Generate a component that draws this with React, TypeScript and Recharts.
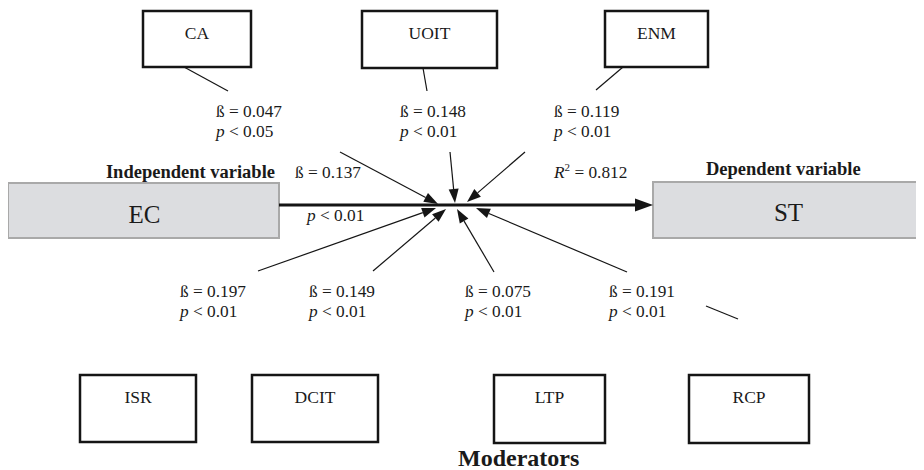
import React from 'react'
import { ScatterChart, Scatter, XAxis, YAxis, ReferenceArea, ReferenceLine } from 'recharts'

// values
const moderators = ['CA', 'UOIT', 'ENM', 'ISR', 'DCIT', 'LTP', 'RCP']
const betas = [0.047, 0.148, 0.119, 0.197, 0.149, 0.075, 0.191]
const pLevels = [0.05, 0.01, 0.01, 0.01, 0.01, 0.01, 0.01]
const directBeta = 0.137
const directP = 0.01
const rSquared = 0.812
const independentName = 'EC'
const dependentName = 'ST'

// diagram layout (page pixels used as the data space)
const moderatorBoxes = [
  [143, 251, 11, 67],
  [362, 497, 11, 68],
  [605, 708, 11, 67],
  [80, 196, 375, 442],
  [252, 378, 375, 442],
  [494, 605, 375, 443],
  [689, 809, 375, 443],
]
const coefAnchors = [
  [216, 117],
  [400, 117],
  [554, 117],
  [180, 297],
  [309, 297],
  [465, 297],
  [609, 297],
]
const pathStarts = [
  [340, 152],
  [450, 152],
  [525, 152],
  [258, 271],
  [373, 271],
  [494, 272],
  [627, 272],
]
const pathEnds = [
  [438, 204],
  [455, 203],
  [467, 202],
  [436, 208],
  [446, 209],
  [457, 209],
  [476, 208],
]
const leaderLines = [
  [184, 67, 228, 91],
  [423, 68, 427, 91],
  [623, 67, 596, 90],
  [706, 306, 738, 319],
]
const ecBox = [8, 279, 183, 238]
const stBox = [653, 922, 182, 238]

const FONT = '"Liberation Serif", "Times New Roman", serif'
const INK = '#151515'
const TXT = '#1a1a1a'

const coefData = moderators.map((m, i) => ({
  x: coefAnchors[i][0],
  y: coefAnchors[i][1],
  beta: betas[i],
  p: pLevels[i],
}))

const boxLabelData = moderators.map((m, i) => ({
  x: (moderatorBoxes[i][0] + moderatorBoxes[i][1]) / 2,
  y: moderatorBoxes[i][2] + 28,
  name: m,
}))

const mainLabelData = [
  { x: (ecBox[0] + ecBox[1]) / 2 + 1, y: 223, name: independentName },
  { x: (stBox[0] + stBox[1]) / 2 + 1, y: 221, name: dependentName },
]

const headingData = [
  { x: 275, y: 178, name: 'Independent variable', anchor: 'end', size: 18.5 },
  { x: 706, y: 175, name: 'Dependent variable', anchor: 'start', size: 18.5 },
  { x: 458, y: 466, name: 'Moderators', anchor: 'start', size: 24 },
]

const arrow = (headLen: number, headWid: number, width: number) => (props: any) => {
  const { x1, y1, x2, y2 } = props
  const dx = x2 - x1
  const dy = y2 - y1
  const len = Math.sqrt(dx * dx + dy * dy) || 1
  const ux = dx / len
  const uy = dy / len
  const bx = x2 - ux * headLen
  const by = y2 - uy * headLen
  const nx = -uy * (headWid / 2)
  const ny = ux * (headWid / 2)
  return (
    <g>
      <line x1={x1} y1={y1} x2={bx} y2={by} stroke={INK} strokeWidth={width} />
      <polygon points={`${x2},${y2} ${bx + nx},${by + ny} ${bx - nx},${by - ny}`} fill={INK} />
    </g>
  )
}

const plainLine = (props: any) => (
  <line x1={props.x1} y1={props.y1} x2={props.x2} y2={props.y2} stroke={INK} strokeWidth={1.2} />
)

const serif = (size: number, bold = false) => ({
  fontFamily: FONT,
  fontSize: size,
  fontWeight: bold ? 700 : 400,
  fill: TXT,
})

const CoefLabel = (props: any) => {
  const { cx, cy, payload } = props
  return (
    <g>
      <text x={cx} y={cy} style={serif(17.3)}>ß = {payload.beta.toFixed(3)}</text>
      <text x={cx} y={cy + 20} style={serif(17.3)}>
        <tspan style={{ fontStyle: 'italic' }}>p</tspan> &lt; {payload.p.toFixed(2)}
      </text>
    </g>
  )
}

const BoxLabel = (props: any) => (
  <text x={props.cx} y={props.cy} textAnchor="middle" style={serif(17.5)}>
    {props.payload.name}
  </text>
)

const MainLabel = (props: any) => (
  <text x={props.cx} y={props.cy} textAnchor="middle" style={serif(25)}>
    {props.payload.name}
  </text>
)

const Heading = (props: any) => (
  <text x={props.cx} y={props.cy} textAnchor={props.payload.anchor} style={serif(props.payload.size, true)}>
    {props.payload.name}
  </text>
)

const DirectLabel = (props: any) => {
  const { cx, cy } = props
  return (
    <g>
      <text x={cx} y={cy} style={serif(17.3)}>ß = {directBeta.toFixed(3)}</text>
      <text x={cx + 12} y={cy + 43} style={serif(17.3)}>
        <tspan style={{ fontStyle: 'italic' }}>p</tspan> &lt; {directP.toFixed(2)}
      </text>
    </g>
  )
}

const RSquaredLabel = (props: any) => {
  const { cx, cy } = props
  return (
    <text x={cx} y={cy} style={serif(17.3)}>
      <tspan style={{ fontStyle: 'italic' }}>R</tspan>
      <tspan dy={-7} style={{ fontSize: 11 }}>2</tspan>
      <tspan dy={7}> = {rSquared.toFixed(3)}</tspan>
    </text>
  )
}

export default function App() {
  return (
    <div style={{ width: 916, height: 462 }}>
      <ScatterChart width={916} height={462} margin={{ top: 0, right: 0, bottom: 0, left: 0 }}>
        <XAxis type="number" dataKey="x" domain={[8, 924]} allowDataOverflow hide />
        <YAxis type="number" dataKey="y" domain={[8, 470]} allowDataOverflow reversed hide />

        <ReferenceArea x1={ecBox[0]} x2={ecBox[1]} y1={ecBox[2]} y2={ecBox[3]} fill="#dcdde0" fillOpacity={1} stroke="#a9a9a9" strokeWidth={2} />
        <ReferenceArea x1={stBox[0]} x2={stBox[1]} y1={stBox[2]} y2={stBox[3]} fill="#dcdde0" fillOpacity={1} stroke="#a9a9a9" strokeWidth={2} />
        {moderatorBoxes.map((b, i) => (
          <ReferenceArea key={moderators[i]} x1={b[0]} x2={b[1]} y1={b[2]} y2={b[3]} fill="#ffffff" fillOpacity={1} stroke={INK} strokeWidth={2.5} />
        ))}

        {leaderLines.map((l, i) => (
          <ReferenceLine key={'lead' + i} segment={[{ x: l[0], y: l[1] }, { x: l[2], y: l[3] }]} shape={plainLine} />
        ))}

        <ReferenceLine segment={[{ x: ecBox[1], y: 205 }, { x: stBox[0], y: 205 }]} shape={arrow(18, 13, 3)} />
        {pathStarts.map((s, i) => (
          <ReferenceLine
            key={'path' + i}
            segment={[{ x: s[0], y: s[1] }, { x: pathEnds[i][0], y: pathEnds[i][1] }]}
            shape={arrow(14, 10, 1.2)}
          />
        ))}

        <Scatter data={coefData} shape={CoefLabel} isAnimationActive={false} />
        <Scatter data={boxLabelData} shape={BoxLabel} isAnimationActive={false} />
        <Scatter data={mainLabelData} shape={MainLabel} isAnimationActive={false} />
        <Scatter data={headingData} shape={Heading} isAnimationActive={false} />
        <Scatter data={[{ x: 295, y: 178 }]} shape={DirectLabel} isAnimationActive={false} />
        <Scatter data={[{ x: 554, y: 178 }]} shape={RSquaredLabel} isAnimationActive={false} />
      </ScatterChart>
    </div>
  )
}
